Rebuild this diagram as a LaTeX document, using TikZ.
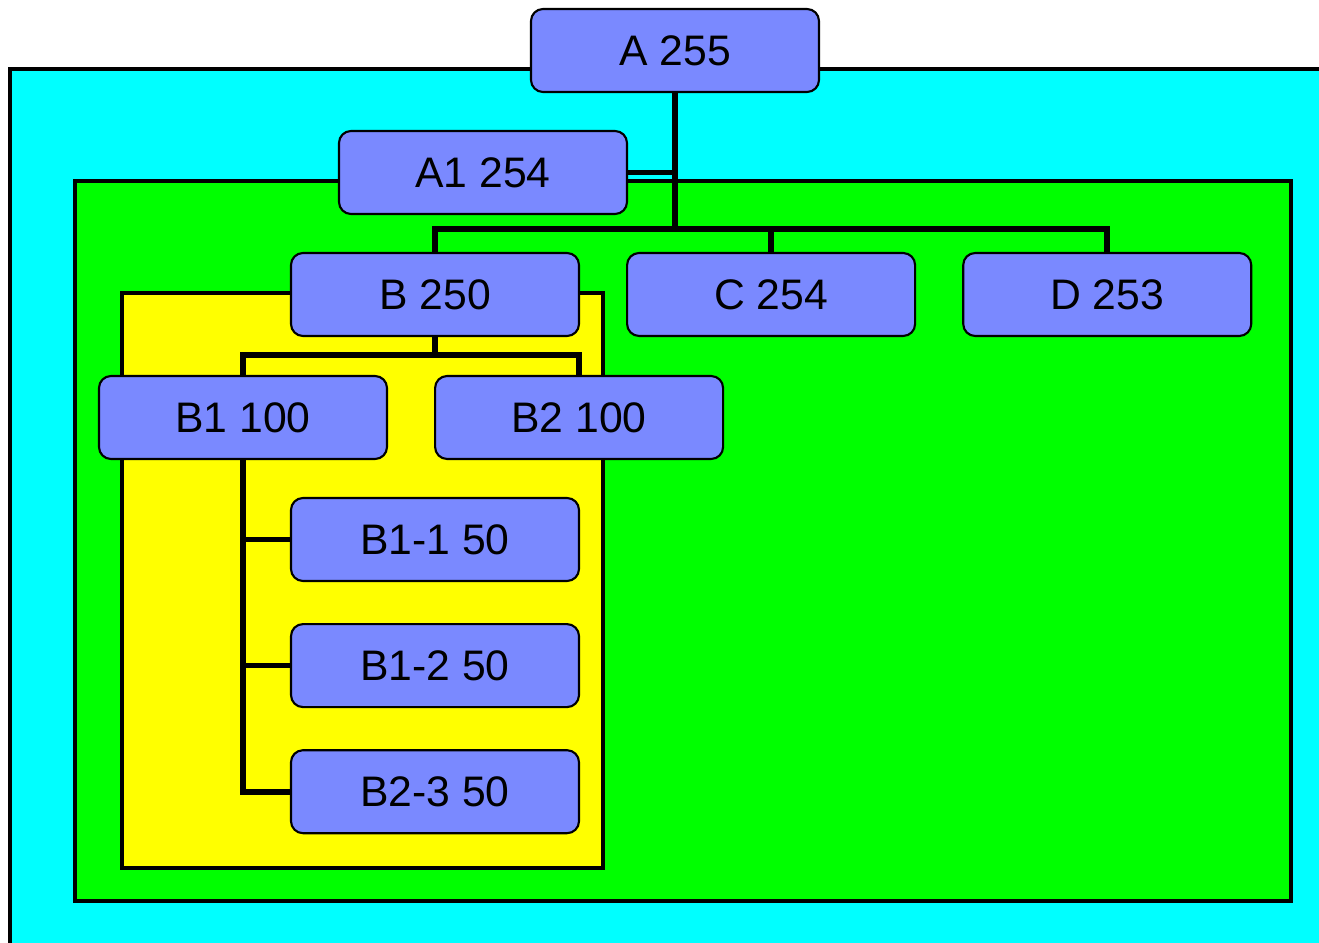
\documentclass[tikz,border=0pt]{standalone}
\usepackage{fontspec}
\setmainfont{Liberation Sans}
\usetikzlibrary{positioning}
\definecolor{boxblue}{RGB}{122,137,255}
\definecolor{outercyan}{RGB}{0,255,255}
\definecolor{innergreen}{RGB}{0,255,0}
\definecolor{coreyellow}{RGB}{255,255,0}
\tikzset{
  unit/.style={draw, line width=1.2pt, fill=boxblue, rounded corners=0.24cm,
    minimum width=5.76cm, minimum height=1.66cm, inner sep=0pt,
    font=\fontsize{24.3}{29}\selectfont},
  link/.style={line width=3.2pt},
  zone/.style={draw, line width=1.9pt}
}

\begin{document}
\begin{tikzpicture}[node distance=0.92cm]
    \useasboundingbox (0,0) rectangle (26.38,-18.86);
    % nested zones
    \draw[zone, fill=outercyan] (0.2,-1.38) rectangle (26.6,-19.1);
    \draw[zone, fill=innergreen] (1.5,-3.62) rectangle (25.82,-18.02);
    \draw[zone, fill=coreyellow] (2.44,-5.86) rectangle (12.06,-17.36);

    \node[unit] (A) at (13.5, -1.01) {A 255};
    \node[unit] (A1) at (9.66, -3.45) {A1 254};
    \node[unit] (B) at (8.7, -5.89) {B 250};
    \node[unit, right = of B] (C) {C 254};
    \node[unit, right = of C] (D) {D 253};
    \node[unit] (B1) at (4.86, -8.35) {B1 100};
    \node[unit, right = of B1] (B2) {B2 100};
    \node[unit] (B11) at (8.7, -10.79) {B1-1 50};
    \node[unit, below = 0.82cm of B11] (B12) {B1-2 50};
    \node[unit, below = 0.82cm of B12] (B23) {B2-3 50};

    % top level links
    \coordinate (busA) at (0, -4.58);
    \draw[link] (A.south) -- (A.south |- busA);
    \draw[link] (A1.east) -- (A1.east -| A.south);
    \draw[link] (B.north) |- (D.north |- busA) -- (D.north);
    \draw[link] (C.north) -- (C.north |- busA);

    % links below B
    \coordinate (busB) at (0, -7.1);
    \draw[link] (B.south) -- (B.south |- busB);
    \draw[link] (B1.north) |- (B2.north |- busB) -- (B2.north);
    \draw[link] (B1.south) |- (B23.west);
    \draw[link] (B11.west) -- (B11.west -| B1.south);
    \draw[link] (B12.west) -- (B12.west -| B1.south);
\end{tikzpicture}
\end{document}
